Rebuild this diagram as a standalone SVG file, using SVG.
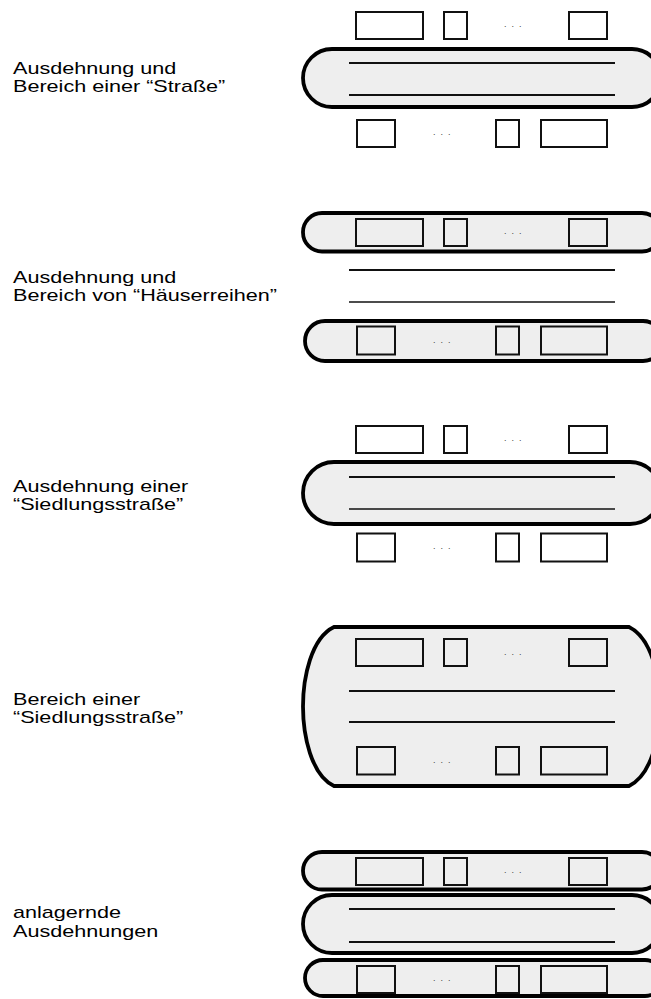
<svg xmlns="http://www.w3.org/2000/svg" width="651" height="999" viewBox="0 0 651 999">
<style>
.lbl{font-family:"Liberation Sans",Arial,sans-serif;font-size:17px;fill:#000}
.pill{fill:#eeeeee;stroke:#000;stroke-width:3.8}
.box{fill:none;stroke:#111;stroke-width:2}
.ln{stroke:#111;stroke-width:2}
.ln2{stroke:#111;stroke-width:1.3}
.dots{font-family:"Liberation Sans",Arial,sans-serif;font-size:9px;fill:#444;letter-spacing:5px;opacity:0.99}
</style>
<rect width="651" height="999" fill="#fff"/>

<!-- Section 1 -->
<g id="label1" transform="translate(13,0) scale(1.27,1)">
<text class="lbl" x="0" y="74">Ausdehnung und</text>
<text class="lbl" x="0" y="92.5">Bereich einer “Straße”</text>
</g>
<g id="sec1">
<g id="s1-top">
<rect class="box" x="356" y="12" width="67" height="27"/>
<rect class="box" x="444" y="12" width="23" height="27"/>
<text class="dots" x="504" y="27">...</text>
<rect class="box" x="569" y="12" width="38" height="27"/>
</g>
<g id="s1-street">
<rect class="pill" x="303" y="49" width="358" height="58" rx="29" ry="29"/>
<line class="ln" x1="349" y1="63" x2="615" y2="63"/>
<line class="ln" x1="349" y1="95" x2="615" y2="95"/>
</g>
<g id="s1-bottom">
<rect class="box" x="357" y="120" width="38" height="27"/>
<text class="dots" x="433" y="135">...</text>
<rect class="box" x="496" y="120" width="23" height="27"/>
<rect class="box" x="541" y="120" width="66" height="27"/>
</g>
</g>

<!-- Section 2 -->
<g id="label2" transform="translate(13,0) scale(1.27,1)">
<text class="lbl" x="0" y="283">Ausdehnung und</text>
<text class="lbl" x="0" y="301.5">Bereich von “Häuserreihen”</text>
</g>
<g id="sec2">
<g id="s2-top">
<rect class="pill" x="303" y="213" width="358" height="38.5" rx="19" ry="19"/>
<rect class="box" x="356" y="219" width="67" height="27"/>
<rect class="box" x="444" y="219" width="23" height="27"/>
<text class="dots" x="504" y="234">...</text>
<rect class="box" x="569" y="219" width="38" height="27"/>
</g>
<g id="s2-lines">
<line class="ln" x1="349" y1="270" x2="615" y2="270"/>
<line class="ln2" x1="349" y1="302" x2="615" y2="302"/>
</g>
<g id="s2-bottom">
<rect class="pill" x="305" y="321" width="358" height="40" rx="20" ry="20"/>
<rect class="box" x="357" y="326.5" width="38" height="28"/>
<text class="dots" x="433" y="343">...</text>
<rect class="box" x="496" y="326.5" width="23" height="28"/>
<rect class="box" x="541" y="326.5" width="66" height="28"/>
</g>
</g>

<!-- Section 3 -->
<g id="label3" transform="translate(13,0) scale(1.27,1)">
<text class="lbl" x="0" y="492.5">Ausdehnung einer</text>
<text class="lbl" x="0" y="510.5">“Siedlungsstraße”</text>
</g>
<g id="sec3">
<g id="s3-top">
<rect class="box" x="356" y="426" width="67" height="27"/>
<rect class="box" x="444" y="426" width="23" height="27"/>
<text class="dots" x="504" y="440.5">...</text>
<rect class="box" x="569" y="426" width="38" height="27"/>
</g>
<g id="s3-street">
<rect class="pill" x="303" y="462" width="358" height="62" rx="31" ry="31"/>
<line class="ln" x1="349" y1="477" x2="615" y2="477"/>
<line class="ln2" x1="349" y1="509" x2="615" y2="509"/>
</g>
<g id="s3-bottom">
<rect class="box" x="357" y="533.5" width="38" height="28"/>
<text class="dots" x="433" y="549">...</text>
<rect class="box" x="496" y="533.5" width="23" height="28"/>
<rect class="box" x="541" y="533.5" width="66" height="28"/>
</g>
</g>

<!-- Section 4 -->
<g id="label4" transform="translate(13,0) scale(1.27,1)">
<text class="lbl" x="0" y="705">Bereich einer</text>
<text class="lbl" x="0" y="723.5">“Siedlungsstraße”</text>
</g>
<g id="sec4">
<path id="s4-area" class="pill" d="M334,627 H629 C652,638 660,678 660,706.5 C660,735 652,775 629,786 H334 C311,775 303,735 303,706.5 C303,678 311,638 334,627 Z"/>
<g id="s4-top">
<rect class="box" x="356" y="639" width="67" height="27"/>
<rect class="box" x="444" y="639" width="23" height="27"/>
<text class="dots" x="504" y="654.5">...</text>
<rect class="box" x="569" y="639" width="38" height="27"/>
</g>
<g id="s4-lines">
<line class="ln" x1="349" y1="691" x2="615" y2="691"/>
<line class="ln" x1="349" y1="722" x2="615" y2="722"/>
</g>
<g id="s4-bottom">
<rect class="box" x="357" y="747" width="38" height="27.5"/>
<text class="dots" x="433" y="763">...</text>
<rect class="box" x="496" y="747" width="23" height="27.5"/>
<rect class="box" x="541" y="747" width="66" height="27.5"/>
</g>
</g>

<!-- Section 5 -->
<g id="label5" transform="translate(13,0) scale(1.27,1)">
<text class="lbl" x="0" y="918.5">anlagernde</text>
<text class="lbl" x="0" y="937">Ausdehnungen</text>
</g>
<g id="sec5">
<g id="s5-top">
<rect class="pill" x="303" y="852" width="358" height="37.5" rx="19" ry="19"/>
<rect class="box" x="356" y="858" width="67" height="27"/>
<rect class="box" x="444" y="858" width="23" height="27"/>
<text class="dots" x="504" y="873">...</text>
<rect class="box" x="569" y="858" width="38" height="27"/>
</g>
<g id="s5-street">
<rect class="pill" x="303" y="895" width="358" height="58" rx="29" ry="29"/>
<line class="ln" x1="349" y1="909" x2="615" y2="909"/>
<line class="ln" x1="349" y1="942" x2="615" y2="942"/>
</g>
<g id="s5-bottom">
<rect class="pill" x="305" y="960" width="358" height="36" rx="18" ry="18"/>
<rect class="box" x="357" y="966" width="38" height="27"/>
<text class="dots" x="433" y="981">...</text>
<rect class="box" x="496" y="966" width="23" height="27"/>
<rect class="box" x="541" y="966" width="66" height="27"/>
</g>
</g>
</svg>
